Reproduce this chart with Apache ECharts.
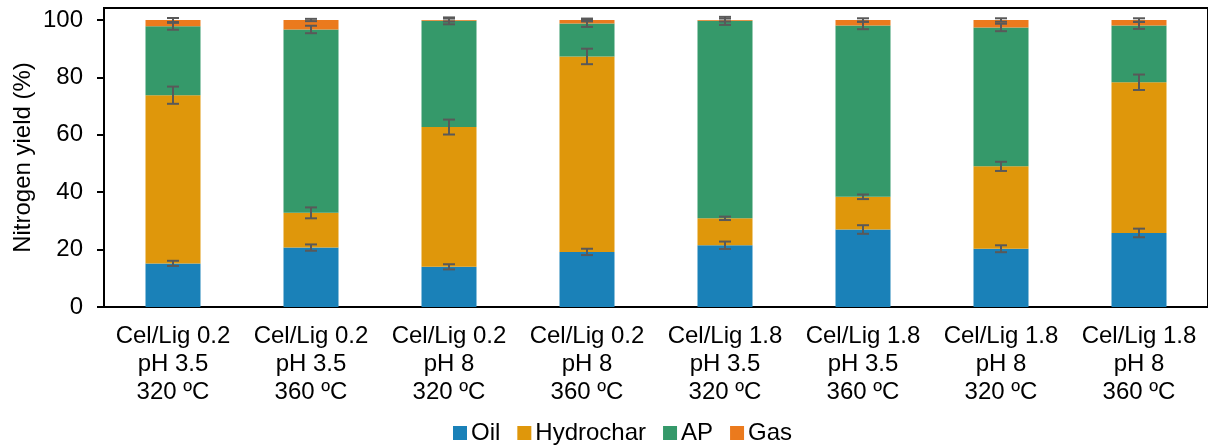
<!DOCTYPE html>
<html>
<head>
<meta charset="utf-8">
<script src="https://cdn.jsdelivr.net/npm/echarts@6/dist/echarts.min.js"></script>
<style>
html,body{margin:0;padding:0;background:#fff;}
#chart{width:1208px;height:445px;}
</style>
</head>
<body>
<div id="chart"></div>
<script>
const categories = [
  'Cel/Lig 0.2\npH 3.5\n320 ºC',
  'Cel/Lig 0.2\npH 3.5\n360 ºC',
  'Cel/Lig 0.2\npH 8\n320 ºC',
  'Cel/Lig 0.2\npH 8\n360 ºC',
  'Cel/Lig 1.8\npH 3.5\n320 ºC',
  'Cel/Lig 1.8\npH 3.5\n360 ºC',
  'Cel/Lig 1.8\npH 8\n320 ºC',
  'Cel/Lig 1.8\npH 8\n360 ºC'
];
const oil       = [15.2, 20.7, 14.0, 19.2, 21.5, 27.0, 20.3, 25.8];
const hydrochar = [58.6, 12.1, 48.7, 68.1,  9.4, 11.4, 28.7, 52.5];
const ap        = [24.0, 63.9, 37.0, 11.5, 68.8, 59.7, 48.4, 19.8];
const gas       = [ 2.2,  3.3,  0.3,  1.2,  0.3,  1.9,  2.6,  1.9];
const oilErr    = [0.9, 1.1, 0.9, 1.1, 1.3, 1.5, 1.2, 1.5];
const hydroErr  = [3.0, 1.9, 2.6, 2.7, 0.6, 0.8, 1.6, 2.7];
const apErr     = [1.2, 1.3, 1.2, 1.2, 1.4, 1.3, 1.3, 1.2];
const gasErr    = [0.7, 0.4, 0.5, 0.5, 0.5, 0.6, 0.6, 0.6];
const yTicks    = [0, 20, 40, 60, 80, 100];

const seriesNames = ['Oil', 'Hydrochar', 'AP', 'Gas'];
const colors = ['#1a81b8', '#df970b', '#35996a', '#eb7a1d'];
const values = [oil, hydrochar, ap, gas];
const errs = [oilErr, hydroErr, apErr, gasErr];

// cumulative tops for error bars
const errData = [];
for (let i = 0; i < categories.length; i++) {
  let cum = 0;
  for (let s = 0; s < values.length; s++) {
    cum += values[s][i];
    errData.push([i, cum, errs[s][i]]);
  }
}

const FONT = 'Liberation Sans, Arial, sans-serif';
const chart = echarts.init(document.getElementById('chart'), null, {renderer: 'canvas'});

const barSeries = seriesNames.map((n, k) => ({
  name: n,
  type: 'bar',
  stack: 'total',
  barWidth: 55,
  data: values[k],
  itemStyle: {color: colors[k]},
  emphasis: {disabled: true}
}));

barSeries.push({
  type: 'custom',
  name: 'err',
  data: errData,
  z: 10,
  silent: true,
  renderItem: function (params, api) {
    const x = api.value(0), y = api.value(1), e = api.value(2);
    const hi = api.coord([x, y + e]);
    const lo = api.coord([x, y - e]);
    const cap = 6;
    const style = {stroke: '#595959', lineWidth: 2};
    return {
      type: 'group',
      children: [
        {type: 'line', shape: {x1: hi[0], y1: hi[1], x2: lo[0], y2: lo[1]}, style: style},
        {type: 'line', shape: {x1: hi[0] - cap, y1: hi[1], x2: hi[0] + cap, y2: hi[1]}, style: style},
        {type: 'line', shape: {x1: lo[0] - cap, y1: lo[1], x2: lo[0] + cap, y2: lo[1]}, style: style}
      ]
    };
  }
});

chart.setOption({
  animation: false,
  backgroundColor: '#fff',
  textStyle: {fontFamily: FONT},
  grid: {left: 104, right: -5, top: 8, bottom: 138, show: true, borderColor: '#000', borderWidth: 2, backgroundColor: 'transparent'},
  legend: {
    data: seriesNames,
    left: 448,
    top: 416,
    itemWidth: 14,
    itemHeight: 14,
    itemGap: 17,
    icon: 'rect',
    textStyle: {fontSize: 24, color: '#000', fontFamily: FONT, padding: [0, 0, 0, -1]}
  },
  xAxis: {
    type: 'category',
    data: categories,
    axisLine: {lineStyle: {color: '#000', width: 2}},
    axisTick: {show: false},
    axisLabel: {fontSize: 24, color: '#000', lineHeight: 28, margin: 15, interval: 0, fontFamily: FONT}
  },
  yAxis: {
    type: 'value',
    min: 0,
    max: 104.18,
    interval: 20,
    name: 'Nitrogen yield (%)',
    nameLocation: 'middle',
    nameGap: 69,
    nameMoveOverlap: false,
    nameTextStyle: {fontSize: 24, color: '#000', fontFamily: FONT},
    splitLine: {show: false},
    axisLine: {show: true, lineStyle: {color: '#000', width: 2}},
    axisTick: {show: true, length: 7, lineStyle: {color: '#000', width: 2}, customValues: yTicks},
    axisLabel: {fontSize: 24, color: '#000', margin: 21, fontFamily: FONT, customValues: yTicks}
  },
  series: barSeries
});
</script>
</body>
</html>
